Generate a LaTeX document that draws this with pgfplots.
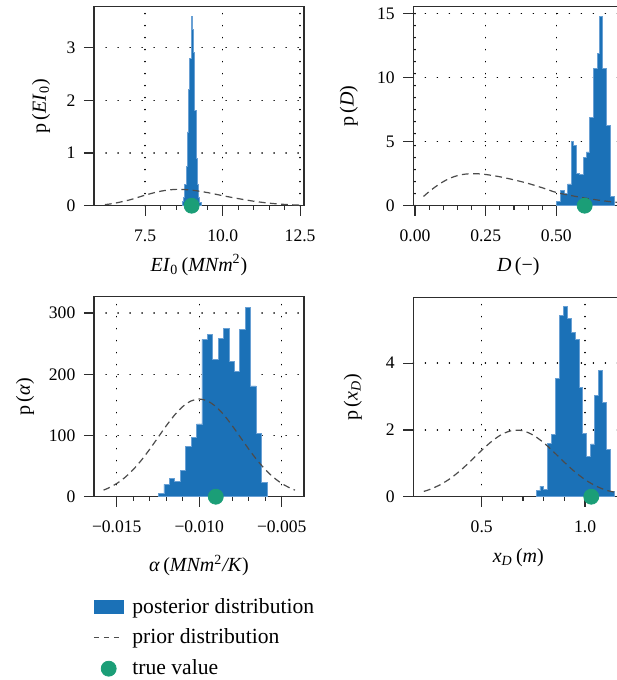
\documentclass[border=0pt]{standalone}
\usepackage{fontspec}
\setmainfont{Liberation Serif}
\usepackage{pgfplots}
\pgfplotsset{compat=1.18}

\definecolor{postblue}{RGB}{27,113,183}
\definecolor{postedge}{RGB}{105,160,212}
\definecolor{truegreen}{RGB}{27,158,119}
\definecolor{axgray}{RGB}{45,45,45}

\pgfplotsset{
  panel/.style={
    scale only axis, width=105pt, height=99.5pt,
    ymin=0, clip=false, scaled ticks=false,
    axis line style={axgray, line width=0.6pt},
    tick style={axgray, line width=0.6pt},
    major tick length=5pt, minor tick length=2pt,
    tick align=outside, xtick pos=bottom, ytick pos=left,
    minor x tick num=4,
    grid=major,
    major grid style={black, line width=0.7pt, dash pattern=on 0.1pt off 5.9pt, line cap=round},
    ticklabel style={font=\fontsize{8.8}{10}\selectfont},
    xticklabel style={yshift=-3.4pt},
    yticklabel style={xshift=-0.8pt},
    label style={font=\fontsize{10}{12}\selectfont},
  },
  hist/.style={const plot, fill=postblue, draw=postedge, line width=0.4pt,
    legend image code/.code={\fill[postblue] (0pt,-3.3pt) rectangle (14.7pt,3.3pt);}},
  prior/.style={axgray!85, line width=0.6pt, dash pattern=on 3.4pt off 2.2pt, smooth,
    legend image code/.code={\draw[axgray!85, line width=0.6pt, dash pattern=on 2.6pt off 2.4pt] (0pt,0pt) -- (14.7pt,0pt);}},
  truth/.style={only marks, mark=*, mark size=3.75pt, color=truegreen,
    mark options={draw=truegreen, fill=truegreen},
    legend image code/.code={\fill[truegreen] (7.35pt,0pt) circle (3.75pt);}},
}

\begin{document}
\begin{tikzpicture}
\useasboundingbox (0,0) rectangle (308pt,340pt);

% EI_0
\begin{axis}[panel, at={(47pt,237.15pt)}, anchor=south west,
  xmin=5.85, xmax=12.624, ymax=3.776,
  xtick={7.5,10,12.5}, xticklabels={7.5,10.0,12.5},
  ytick={0,1,2,3}, yticklabels={0,1,2,3},
  xlabel={\textit{EI}\textsubscript{0}\,(\textit{MNm}\textsuperscript{2})},
  ylabel={p\,(\textit{EI}\textsubscript{0})},
  xlabel style={at={(axis description cs:0.5,0)}, anchor=base, yshift=-32.7pt},
  ylabel style={at={(axis description cs:0,0.5)}, anchor=center, yshift=26.5pt},
]
\addplot[hist] coordinates {
  (8.70,0.08) (8.74,0.15) (8.78,0.4) (8.82,0.75) (8.86,1.4) (8.90,2.2)
  (8.94,2.8) (8.98,3.59) (9.02,3.35) (9.06,2.9) (9.10,1.8) (9.14,0.9)
  (9.18,0.4) (9.22,0.15) (9.26,0.06) (9.30,0)
} \closedcycle;
\addplot[prior] coordinates {
  (6.2,0.02) (6.5,0.045) (7.0,0.11) (7.5,0.20) (8.0,0.275) (8.5,0.31)
  (9.0,0.295) (9.5,0.25) (10.0,0.19) (10.5,0.135) (11.0,0.085)
  (11.5,0.048) (12.0,0.024) (12.5,0.01)
};
\addplot[truth] coordinates {(9.0,0)};
\end{axis}

% D
\begin{axis}[panel, at={(206.65pt,237.15pt)}, anchor=south west,
  xmin=-0.006, xmax=0.7366, ymax=15.55,
  xtick={0,0.25,0.5}, xticklabels={0.00,0.25,0.50},
  ytick={0,5,10,15}, yticklabels={0,5,10,15},
  xlabel={\textit{D}\,(−)},
  ylabel={p\,(\textit{D})},
  xlabel style={at={(axis description cs:0.5,0)}, anchor=base, yshift=-32.7pt},
  ylabel style={at={(axis description cs:0,0.5)}, anchor=center, yshift=32.2pt},
]
\addplot[hist] coordinates {
  (0.5000,0.3) (0.5159,1.2) (0.5283,0.95) (0.5400,1.7) (0.5520,5.0)
  (0.5612,4.7) (0.5707,2.5) (0.5824,2.45) (0.5965,3.8) (0.6061,4.2)
  (0.6178,6.9) (0.6298,10.7) (0.6439,11.9) (0.6531,14.8) (0.6637,10.7)
  (0.6768,6.3) (0.6909,0.75) (0.7051,0)
} \closedcycle;
\addplot[prior] coordinates {
  (0.03,0.72) (0.05,1.1) (0.075,1.52) (0.1,1.88) (0.125,2.16) (0.15,2.35)
  (0.175,2.46) (0.2,2.5) (0.225,2.49) (0.25,2.44) (0.3,2.26) (0.35,2.02)
  (0.4,1.74) (0.45,1.4) (0.5,1.03) (0.55,0.8) (0.6,0.6) (0.65,0.43)
  (0.7,0.29) (0.72,0.25)
};
\addplot[truth] coordinates {(0.6,0)};
\end{axis}

% alpha
\begin{axis}[panel, at={(47pt,91.65pt)}, anchor=south west, height=100pt,
  xmin=-0.01638, xmax=-0.003653, ymax=326.8,
  xtick={-0.015,-0.01,-0.005}, xticklabels={−0.015,−0.010,−0.005},
  ytick={0,100,200,300}, yticklabels={0,100,200,300},
  xlabel={\textit{α}\,(\textit{MNm}\textsuperscript{2}\textit{/K})},
  ylabel={p\,(\textit{α})},
  xlabel style={at={(axis description cs:0.5,0)}, anchor=base, yshift=-37.5pt},
  ylabel style={at={(axis description cs:0,0.5)}, anchor=center, yshift=34.5pt},
  legend style={at={(axis description cs:0,0)}, anchor=north west,
    xshift=-0.5pt, yshift=-48.5pt, draw=none, fill=none, inner sep=0pt,
    font=\fontsize{10.8}{12}\selectfont, row sep=2.4pt, cells={anchor=west},
    /tikz/every odd column/.append style={column sep=2.2pt}},
  legend cell align=left,
]
\addplot[hist] coordinates {
  (-0.012467,5.5) (-0.0121385,20) (-0.011810,30) (-0.0114815,25.6)
  (-0.011153,43.6) (-0.0108245,81.7) (-0.010496,97) (-0.0101675,118.8)
  (-0.009839,257) (-0.0095105,265) (-0.009182,224.5) (-0.0088535,258.8)
  (-0.008525,275) (-0.0081965,220.6) (-0.007868,204) (-0.0075395,273.5)
  (-0.007211,309) (-0.0068825,181) (-0.006554,103.6) (-0.0062255,23)
  (-0.005897,0)
} \closedcycle;
\addplot[prior] coordinates {
  (-0.0158,10.8) (-0.0155,14.2) (-0.015,21.6) (-0.0145,31.6) (-0.014,44.4)
  (-0.0135,59.9) (-0.013,77.7) (-0.0125,96.8) (-0.012,115.9) (-0.0115,133.3)
  (-0.011,147.3) (-0.0105,156.4) (-0.010,159.6) (-0.0095,156.4)
  (-0.009,147.3) (-0.0085,133.3) (-0.008,115.9) (-0.0075,96.8) (-0.007,77.7)
  (-0.0065,59.9) (-0.006,44.4) (-0.0055,31.6) (-0.005,21.6) (-0.0045,14.2)
  (-0.0042,10.8)
};
\addplot[truth] coordinates {(-0.009,0)};
\legend{posterior distribution, prior distribution, true value}
\end{axis}

% x_D
\begin{axis}[panel, at={(206.65pt,91.65pt)}, anchor=south west,
  xmin=0.169, xmax=1.185, ymax=5.96,
  xtick={0.5,1}, xticklabels={0.5,1.0},
  ytick={0,2,4}, yticklabels={0,2,4},
  xlabel={\textit{x}\textsubscript{\textit{D}}\,(\textit{m})},
  ylabel={p\,(\textit{x}\textsubscript{\textit{D}})},
  xlabel style={at={(axis description cs:0.5,0)}, anchor=base, yshift=-32.7pt},
  ylabel style={at={(axis description cs:0,0.5)}, anchor=center, yshift=30.2pt},
]
\addplot[hist] coordinates {
  (0.7627,0.2) (0.7816,0.32) (0.8004,0.22) (0.8193,1.6) (0.8382,1.87)
  (0.8571,3.54) (0.8759,5.44) (0.8948,5.69) (0.9137,5.34) (0.9325,4.91)
  (0.9514,4.71) (0.9703,3.27) (0.9891,1.9) (1.0080,1.2) (1.0269,1.58)
  (1.0457,3.04) (1.0646,3.79) (1.0835,2.81) (1.1024,1.42) (1.1212,0.15)
  (1.1401,0)
} \closedcycle;
\addplot[prior] coordinates {
  (0.22,0.159) (0.25,0.22) (0.3,0.361) (0.35,0.554) (0.4,0.802) (0.45,1.089)
  (0.5,1.39) (0.55,1.666) (0.6,1.876) (0.65,1.985) (0.7,1.973) (0.75,1.841)
  (0.8,1.615) (0.85,1.331) (0.9,1.029) (0.95,0.749) (1.0,0.511) (1.05,0.328)
  (1.1,0.198) (1.14,0.14)
};
\addplot[truth] coordinates {(1.03,0)};
\end{axis}
\end{tikzpicture}
\end{document}
